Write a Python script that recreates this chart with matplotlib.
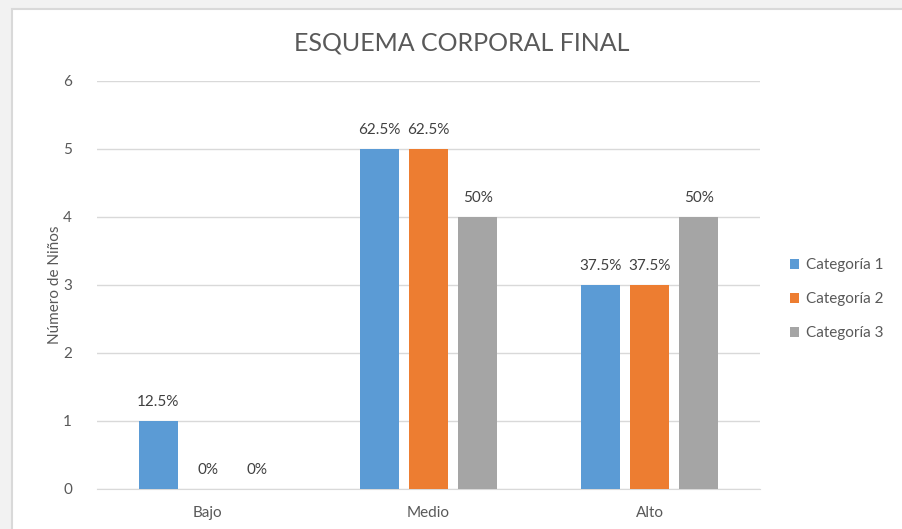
import numpy as np
import matplotlib.pyplot as plt
from matplotlib.patches import Rectangle

plt.rcParams['font.family'] = ['Lato', 'DejaVu Sans']

niveles = ['Bajo', 'Medio', 'Alto']
series = ['Categoría 1', 'Categoría 2', 'Categoría 3']
cat1 = [1, 5, 3]
cat2 = [0, 5, 3]
cat3 = [0, 4, 4]
etiq1 = ['12.5%', '62.5%', '37.5%']
etiq2 = ['0%', '62.5%', '37.5%']
etiq3 = ['0%', '50%', '50%']
colores = ['#5B9BD5', '#ED7D31', '#A5A5A5']

fig = plt.figure(figsize=(9.02, 5.29), dpi=100)
fig.patch.set_facecolor('#f2f2f2')
# chart frame, behind the axes
fig.patches.append(Rectangle((12 / 902, -0.05), 1.0, 1 - 9 / 529 + 0.05,
                             transform=fig.transFigure, facecolor='white',
                             edgecolor='#d9d9d9', linewidth=1.5, zorder=-10))

ax = fig.add_axes([97 / 902, 1 - 489 / 529, (760 - 97) / 902, (489 - 81) / 529])
ax.set_facecolor('none')

x = np.arange(len(niveles))
w = 0.178
off = 0.223
for i, (vals, etq) in enumerate([(cat1, etiq1), (cat2, etiq2), (cat3, etiq3)]):
    bars = ax.bar(x + (i - 1) * off, vals, w, color=colores[i], label=series[i], zorder=3)
    for b, t in zip(bars, etq):
        ax.text(b.get_x() + b.get_width() / 2, b.get_height() + 0.17, t,
                ha='center', va='bottom', fontsize=11, color='#404040')

ax.set_xlim(-0.5, 2.5)
ax.set_ylim(0, 6)
ax.set_yticks(range(0, 7))
ax.set_xticks(x)
ax.set_xticklabels(niveles)
ax.grid(axis='y', color='#d9d9d9', linewidth=1, zorder=0)
for s in ['top', 'right', 'left']:
    ax.spines[s].set_visible(False)
ax.spines['bottom'].set_color('#d9d9d9')
ax.tick_params(axis='both', length=0, labelsize=11, colors='#595959')
ax.tick_params(axis='y', pad=18)
ax.tick_params(axis='x', pad=12)
ax.set_ylabel('Número de Niños', fontsize=11, color='#595959')
ax.yaxis.set_label_coords(-0.053, 0.5)

fig.text(462 / 902, 1 - 43 / 529, 'ESQUEMA CORPORAL FINAL', ha='center', va='center',
         fontsize=18, color='#595959')

ax.legend(loc='center left', bbox_to_anchor=(1.025, 0.465), frameon=False,
          fontsize=11, handlelength=0.6, handleheight=0.6, handletextpad=0.4,
          labelspacing=1.3, labelcolor='#595959')

fig.savefig('out.png', dpi=100, facecolor=fig.get_facecolor())
